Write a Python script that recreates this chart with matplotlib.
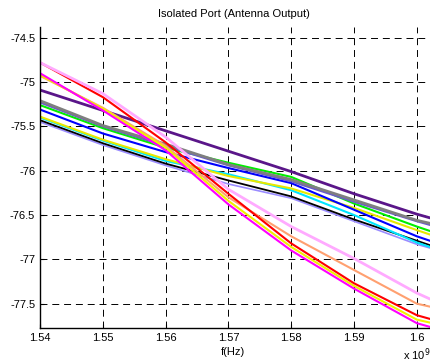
import matplotlib
matplotlib.use("Agg")
import matplotlib.pyplot as plt

plt.rcParams['font.family'] = ['Liberation Sans', 'DejaVu Sans']
plt.rcParams['lines.scale_dashes'] = False

# frequency in units of 1e9 Hz
freq = [1.540, 1.550, 1.560, 1.570, 1.580, 1.590, 1.600, 1.6025]

# slow-falling traces
s_lavender = [-75.45, -75.71, -75.94, -76.15, -76.31, -76.57, -76.83, -76.88]
s_black = [-75.43, -75.69, -75.92, -76.11, -76.29, -76.55, -76.79, -76.85]
s_cyan = [-75.40, -75.66, -75.89, -76.04, -76.22, -76.50, -76.81, -76.87]
s_yellow = [-75.39, -75.65, -75.87, -76.06, -76.20, -76.42, -76.67, -76.73]
s_blue = [-75.31, -75.58, -75.79, -75.97, -76.14, -76.44, -76.74, -76.80]
s_green = [-75.26, -75.52, -75.74, -75.91, -76.07, -76.37, -76.63, -76.69]
s_slate = [-75.23, -75.50, -75.72, -75.94, -76.12, -76.35, -76.57, -76.62]
s_gray = [-75.21, -75.49, -75.70, -75.93, -76.10, -76.33, -76.56, -76.60]
s_indigo = [-75.09, -75.32, -75.55, -75.78, -76.01, -76.26, -76.49, -76.54]

# fast-falling traces
f_orange = [-74.93, -75.29, -75.72, -76.30, -76.74, -77.12, -77.50, -77.54]
f_yellow = [-74.92, -75.30, -75.74, -76.34, -76.86, -77.30, -77.68, -77.72]
f_red = [-74.78, -75.17, -75.68, -76.26, -76.82, -77.27, -77.63, -77.68]
f_magenta = [-74.90, -75.32, -75.77, -76.38, -76.90, -77.33, -77.72, -77.77]
f_pink = [-74.78, -75.13, -75.62, -76.21, -76.63, -76.99, -77.38, -77.46]

xticks = [1.54, 1.55, 1.56, 1.57, 1.58, 1.59, 1.60]
xtick_labels = ['1.54', '1.55', '1.56', '1.57', '1.58', '1.59', '1.6']
yticks = [-77.5, -77, -76.5, -76, -75.5, -75, -74.5]
ytick_labels = ['-77.5', '-77', '-76.5', '-76', '-75.5', '-75', '-74.5']

fig = plt.figure(figsize=(4.3, 3.63), dpi=100)
ax = fig.add_axes([40 / 430, 1 - 327.7 / 363, 390 / 430, (327.7 - 27) / 363])

traces = [
    (s_lavender, '#9a8cff', 1.2),
    (s_black, '#000000', 1.3),
    (s_cyan, '#00e5ff', 1.5),
    (s_yellow, '#e8e800', 1.5),
    (s_blue, '#0000ff', 1.5),
    (s_green, '#00ee00', 1.5),
    (s_slate, '#6a5acd', 1.5),
    (s_gray, '#7f7f7f', 2.0),
    (s_indigo, '#5a1689', 2.0),
    (f_orange, '#ffa070', 1.5),
    (f_yellow, '#f0f000', 1.5),
    (f_red, '#ff0000', 1.5),
    (f_magenta, '#ff00ff', 1.5),
    (f_pink, '#ffaaff', 2.0),
]
for vals, col, lw in traces:
    ax.plot(freq, vals, color=col, lw=lw, solid_capstyle='butt')

ax.set_xlim(1.54, 1.6021)
ax.set_ylim(-77.771, -74.379)
ax.set_xticks(xticks)
ax.set_xticklabels(xtick_labels)
ax.set_yticks(yticks)
ax.set_yticklabels(ytick_labels)

ax.grid(True, color='black', linestyle=(0, (5, 3.5)), linewidth=0.7)
ax.set_axisbelow(True)
ax.tick_params(direction='in', length=3, width=0.8, labelsize=8, pad=3.5, colors='black')
ax.spines['top'].set_visible(False)
ax.spines['right'].set_visible(False)
ax.spines['left'].set_linewidth(1.0)
ax.spines['bottom'].set_linewidth(1.0)

fig.text(233.5 / 430, 1 - 14 / 363, 'Isolated Port (Antenna Output)', ha='center', va='center', fontsize=8)
fig.text(233 / 430, 1 - 352 / 363, 'f(Hz)', ha='center', va='center', fontsize=8)
fig.text(403 / 430, 1 - 360 / 363, r'x 10$^{9}$', ha='left', va='baseline', fontsize=8)

fig.savefig('out.png', dpi=100)
